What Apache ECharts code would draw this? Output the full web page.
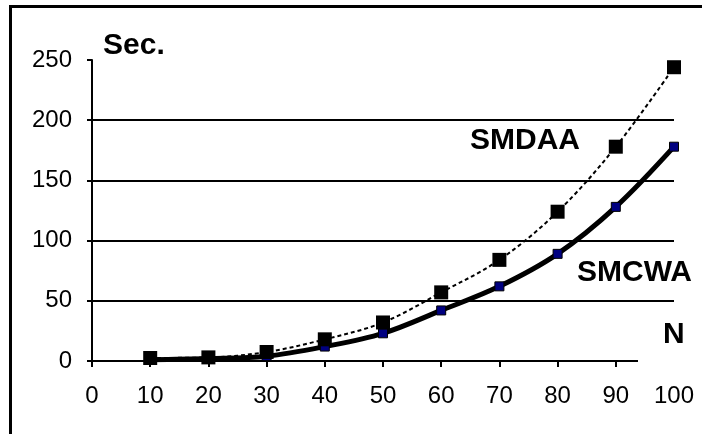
<!DOCTYPE html>
<html>
<head>
<meta charset="utf-8">
<script src="https://cdn.jsdelivr.net/npm/echarts@6/dist/echarts.min.js"></script>
<style>
  html, body { margin: 0; padding: 0; background: #fff; }
  #chart { width: 702px; height: 434px; }
</style>
</head>
<body>
<div id="chart"></div>
<script>
  // data
  var nValues = [10, 20, 30, 40, 50, 60, 70, 80, 90, 100]
  var smdaa = [2.5, 3, 7.5, 18, 32, 57, 84, 124, 178, 244]
  var smcwa = [1, 2, 4, 12, 23, 42, 62, 89, 128, 178]
  var gridValues = [50, 100, 150, 200]

  var tickFont = '"Liberation Sans", Arial, sans-serif'
  var labelFont = '"Liberation Sans", Arial, sans-serif'

  function pairs(ys) {
    return nValues.map(function (n, i) { return [n, ys[i]] })
  }

  var chart = echarts.init(document.getElementById('chart'), null, { renderer: 'canvas' })

  var option = {
    animation: false,
    backgroundColor: '#fff',
    grid: {
      left: 92,
      right: 28,
      top: 60,
      bottom: 73
    },
    xAxis: {
      type: 'value',
      min: 0,
      max: 100,
      interval: 10,
      axisLine: { show: true, lineStyle: { color: '#000', width: 2 } },
      axisTick: { show: true, length: 6, lineStyle: { color: '#000', width: 2 } },
      axisLabel: { color: '#000', fontFamily: tickFont, fontSize: 24, margin: 23 },
      splitLine: { show: false }
    },
    yAxis: {
      type: 'value',
      min: 0,
      max: 250,
      interval: 50,
      axisLine: { show: true, lineStyle: { color: '#000', width: 2 } },
      axisTick: { show: true, length: 5, lineStyle: { color: '#000', width: 2 } },
      axisLabel: { color: '#000', fontFamily: tickFont, fontSize: 24, margin: 20 },
      splitLine: { show: false }
    },
    series: [
      {
        name: 'SMCWA',
        type: 'line',
        smooth: 0.35,
        data: pairs(smcwa),
        symbol: 'rect',
        symbolSize: 9,
        z: 3,
        lineStyle: { color: '#000', width: 5 },
        itemStyle: { color: '#000080', borderColor: '#000', borderWidth: 1 },
        markLine: {
          silent: true,
          symbol: 'none',
          label: { show: false },
          lineStyle: { color: '#000', width: 2, type: 'solid' },
          data: gridValues.map(function (v) { return { yAxis: v } }),
          z: 1
        }
      },
      {
        name: 'SMDAA',
        type: 'line',
        smooth: 0.35,
        data: pairs(smdaa),
        symbol: 'rect',
        symbolSize: 14,
        z: 4,
        lineStyle: { color: '#000', width: 2, type: [4, 3] },
        itemStyle: { color: '#000' }
      }
    ],
    graphic: [
      // frame of the picture
      { type: 'rect', shape: { x: 9, y: 5, width: 700, height: 3 }, style: { fill: '#000' }, z: 100 },
      { type: 'rect', shape: { x: 9, y: 5, width: 3, height: 440 }, style: { fill: '#000' }, z: 100 },
      // the "N" text box hides the axis end
      { type: 'rect', shape: { x: 638, y: 357, width: 50, height: 14 }, style: { fill: '#fff' }, z: 50 },
      { type: 'text', left: 103, top: 31, style: { text: 'Sec.', font: 'bold 30px ' + labelFont, fill: '#000' }, z: 60 },
      { type: 'text', left: 470, top: 126, style: { text: 'SMDAA', font: 'bold 30px ' + labelFont, fill: '#000' }, z: 60 },
      { type: 'text', left: 577, top: 258, style: { text: 'SMCWA', font: 'bold 30px ' + labelFont, fill: '#000' }, z: 60 },
      { type: 'text', left: 663, top: 320, style: { text: 'N', font: 'bold 30px ' + labelFont, fill: '#000' }, z: 60 }
    ]
  }

  chart.setOption(option)
</script>
</body>
</html>
